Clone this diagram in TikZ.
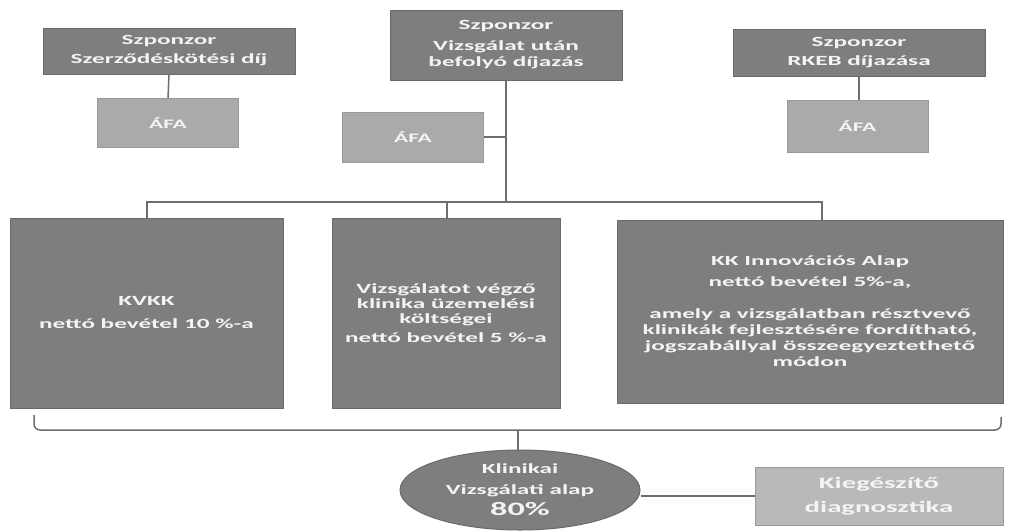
\documentclass[tikz,border=0pt]{standalone}
\usepackage{fontspec}
\setmainfont{Carlito}[FakeStretch=1.8]
\usetikzlibrary{shapes.geometric}
\definecolor{darkbox}{HTML}{7E7E7E}
\definecolor{darkedge}{HTML}{6A6A6A}
\definecolor{lightbox}{HTML}{AAAAAA}
\definecolor{lightedge}{HTML}{999999}
\definecolor{paleb}{HTML}{B9B9B9}
\definecolor{linec}{HTML}{6E6E6E}
\definecolor{txt}{HTML}{F4F4F4}
\tikzset{
  darkrect/.style={draw=darkedge, line width=1pt, fill=darkbox, text=txt, inner sep=0pt, align=center, font=\bfseries\fontsize{14}{16}\selectfont},
  afabox/.style={draw=lightedge, line width=1pt, fill=lightbox, text=txt, inner sep=0pt, align=center, minimum width=141pt, minimum height=49pt, font=\bfseries\fontsize{13}{15}\selectfont},
  conn/.style={draw=linec, line width=1.5pt},
  stem/.style={draw=linec, line width=2.5pt},
}
\begin{document}
\begin{tikzpicture}[x=1pt,y=-1pt]
\useasboundingbox (0,0) rectangle (1009,530);
% top row
\node[darkrect, minimum width=252pt, minimum height=46pt] (s1) at (169,51) {Szponzor\\[3pt]Szerződéskötési díj};
\node[afabox] (a1) at (168,123) {ÁFA};
\node[darkrect, minimum width=232pt, minimum height=70pt] (s2) at (506,45) {Szponzor\\[5pt]Vizsgálat  után\\befolyó díjazás};
\node[afabox, minimum height=50pt] (a2) at (413,137) {ÁFA};
\node[darkrect, minimum width=252pt, minimum height=47pt] (s3) at (859,52.5) {Szponzor\\[3pt]RKEB díjazása};
\node[afabox, minimum height=52pt] (a3) at (857.5,126) {ÁFA};
% middle row
\node[darkrect, minimum width=273pt, minimum height=190pt] (b1) at (146.5,313) {KVKK\\[7pt]nettó bevétel 10 \%-a};
\node[darkrect, minimum width=228pt, minimum height=190pt, font=\bfseries\fontsize{14}{15}\selectfont] (b2) at (446,313) {Vizsgálatot végző\\klinika üzemelési\\költségei\\[4pt]nettó bevétel 5 \%-a};
\node[darkrect, minimum width=386pt, minimum height=183pt] (b3) at (810,311.5) {KK Innovációs Alap\\[5pt]nettó bevétel 5\%-a,\\[16pt]amely a vizsgálatban  résztvevő\\klinikák fejlesztésére fordítható,\\jogszabállyal összeegyeztethető\\módon};
% bottom
\node[ellipse, draw=darkedge, line width=1pt, fill=darkbox, text=txt, inner sep=0pt, minimum width=240pt, minimum height=80pt, align=center, font=\bfseries\fontsize{14}{21}\selectfont] (e) at (520,490) {Klinikai\\Vizsgálati alap\\{\fontsize{19}{21}\selectfont 80\%}};
\node[draw=lightedge, line width=1pt, fill=paleb, text=txt, inner sep=0pt, minimum width=248pt, minimum height=58pt, align=center, font=\bfseries\fontsize{16}{24}\selectfont] (k) at (879,496) {Kiegészítő\\diagnosztika};
% connectors top
\draw[conn] (s1.south) -- (a1.north);
\draw[conn] (s3.south) -- (a3.north -| s3.south);
\coordinate (bus) at (s2.south |- 0,202);
\draw[stem] (s2.south) -- (bus);
\draw[conn] (a2.east) -- (a2.east -| s2.south);
\coordinate (busL) at (147,202);
\coordinate (busR) at (822,202);
\draw[conn] (b1.north -| busL) -- (busL) -- (busR) -- (b3.north -| busR);
\draw[conn] (b2.north -| 447,0) -- (447,202);
% brace
\coordinate (brL) at (34,415);
\coordinate (brR) at (1001,417);
\coordinate (brM) at (518,430);
\draw[conn] (brL) -- (34,424) to[out=-90,in=180] (40,430) -- (995,430) to[out=0,in=-90] (1001,424) -- (brR);
\draw[stem] (brM) -- ([yshift=-2pt]brM |- e.north);
\draw[conn] (e.east |- k.west) -- (k.west);
\end{tikzpicture}
\end{document}
